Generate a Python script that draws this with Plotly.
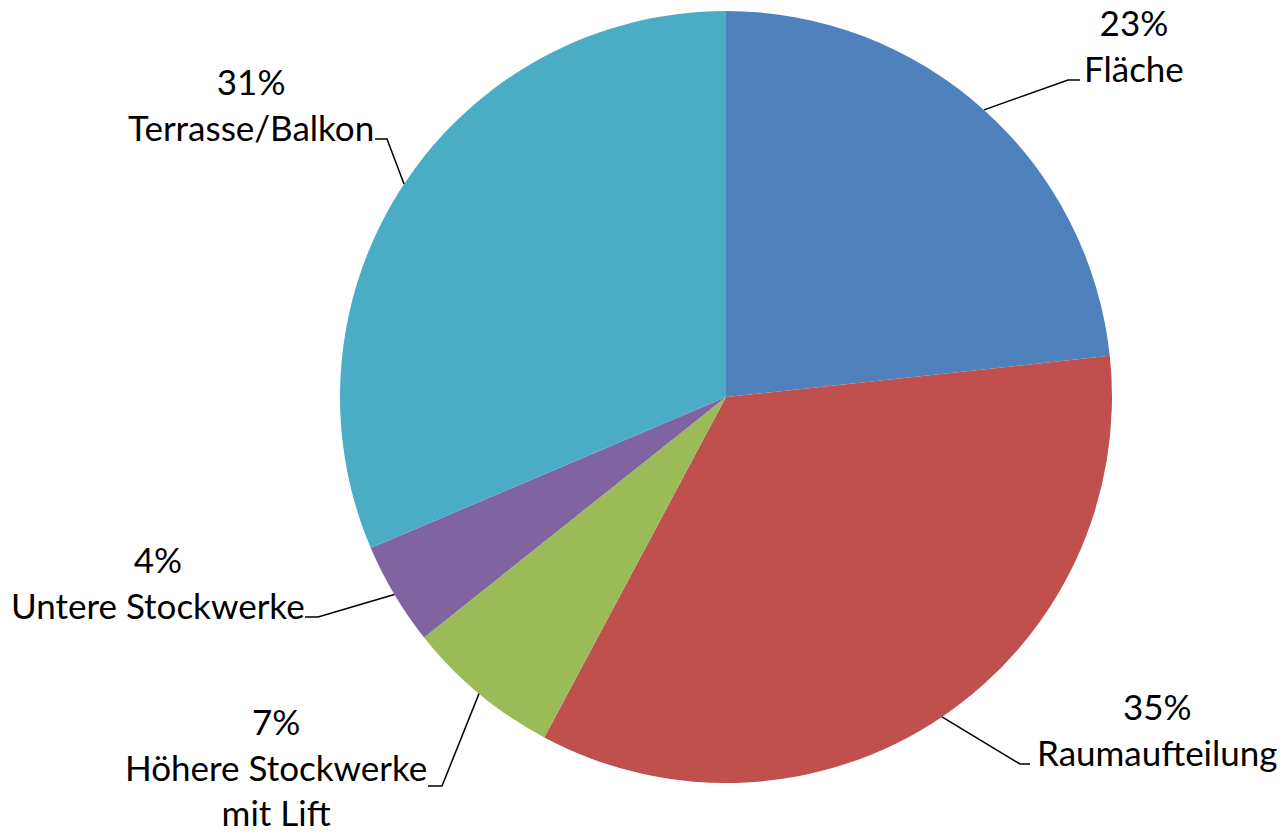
import math
import plotly.graph_objects as go

# ---- data ----
categories = ["Fläche", "Raumaufteilung", "Höhere Stockwerke<br>mit Lift", "Untere Stockwerke", "Terrasse/Balkon"]
values = [23.3, 34.5, 6.5, 4.3, 31.4]
pct_labels = ["23%", "35%", "7%", "4%", "31%"]
colors = ["#4F81BD", "#C0504D", "#9BBB59", "#8064A2", "#4BACC6"]

# ---- layout parameters (pixels) ----
W, H = 1282, 834
CX, CY, R = 726, 397, 386
FONT = "Lato"
FSIZE = 35

# label block centers, elbow and horizontal-end points (pixels)
label_pos = [(1134, 45), (1157, 729), (276, 766), (158, 582), (251, 104)]
elbows = [(1068, 80), (1020, 764), (442, 786), (318, 617), (387, 139)]
ends = [(1080, 80), (1030, 764), (428, 786), (305, 617), (375, 139)]

def px(x):
    return x / W

def py(y):
    return 1 - y / H

fig = go.Figure(go.Pie(
    labels=categories,
    values=values,
    sort=False,
    direction="clockwise",
    rotation=0,
    textinfo="none",
    hoverinfo="label+percent",
    marker=dict(colors=colors, line=dict(width=0)),
    domain=dict(x=[px(CX - R), px(CX + R)], y=[py(CY + R), py(CY - R)]),
    showlegend=False,
))

total = sum(values)
cum = 0
shapes = []
annotations = []
for i, v in enumerate(values):
    theta = 2 * math.pi * (cum + v / 2) / total
    cum += v
    sx = CX + R * math.sin(theta)
    sy = CY - R * math.cos(theta)
    ex, ey = elbows[i]
    tx, ty = ends[i]
    path = f"M {px(sx)} {py(sy)} L {px(ex)} {py(ey)} L {px(tx)} {py(ty)}"
    shapes.append(dict(type="path", xref="paper", yref="paper", path=path,
                       line=dict(color="black", width=1.5)))
    lx, ly = label_pos[i]
    annotations.append(dict(
        x=px(lx), y=py(ly), xref="paper", yref="paper",
        xanchor="center", yanchor="middle", showarrow=False,
        text=f"{pct_labels[i]}<br>{categories[i]}",
        font=dict(family=FONT, size=FSIZE, color="black"),
        align="center",
    ))

fig.update_layout(
    width=W, height=H,
    margin=dict(l=0, r=0, t=0, b=0),
    paper_bgcolor="white",
    plot_bgcolor="white",
    shapes=shapes,
    annotations=annotations,
)

fig.write_html("out.html",
               config={"displayModeBar": False},
               post_script="document.body.style.margin='0px';document.body.style.overflow='hidden';")
